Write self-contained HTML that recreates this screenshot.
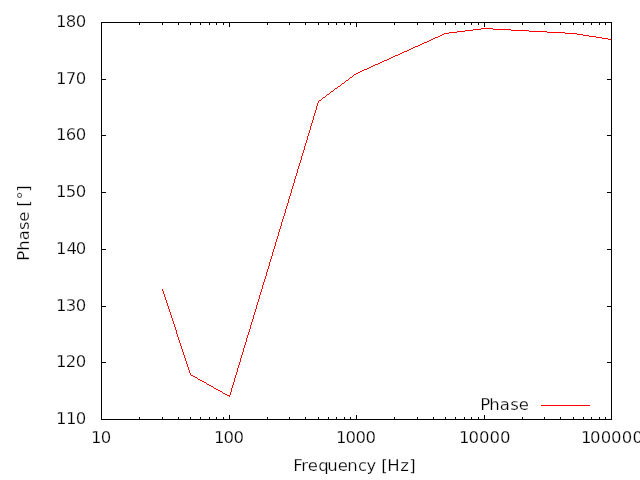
<!DOCTYPE html>
<html lang="en">
<head>
<meta charset="utf-8">
<title>Phase vs Frequency</title>
<style>
html,body{margin:0;padding:0;background:#fff;}
body{width:640px;height:480px;overflow:hidden;}
svg{display:block;}
text{font-family:"DejaVu Sans", "Liberation Sans", sans-serif;font-size:16.5px;fill:#000;stroke:#fff;stroke-width:0.25px;paint-order:fill stroke;}
</style>
</head>
<body>
<svg width="640" height="480" viewBox="0 0 640 480">
<rect x="0" y="0" width="640" height="480" fill="#ffffff"/>
<path d="M191 375h2v1h-2zM193 376h2v1h-2zM195 377h2v1h-2zM198 379h2v1h-2zM200 380h2v1h-2zM202 381h2v1h-2zM204 382h2v1h-2zM207 384h2v1h-2zM209 385h2v1h-2zM211 386h2v1h-2zM214 388h2v1h-2zM216 389h2v1h-2zM218 390h2v1h-2zM220 391h2v1h-2zM223 393h2v1h-2zM225 394h2v1h-2zM227 395h3v1h-3zM319 100h2v1h-2zM323 97h2v1h-2zM327 94h2v1h-2zM331 91h2v1h-2zM335 88h2v1h-2zM338 86h2v1h-2zM342 83h2v1h-2zM346 80h2v1h-2zM350 77h2v1h-2zM354 74h2v1h-2zM356 73h2v1h-2zM358 72h2v1h-2zM360 71h2v1h-2zM362 70h2v1h-2zM364 69h3v1h-3zM367 68h2v1h-2zM369 67h2v1h-2zM371 66h2v1h-2zM373 65h2v1h-2zM375 64h3v1h-3zM378 63h2v1h-2zM380 62h2v1h-2zM382 61h2v1h-2zM384 60h3v1h-3zM387 59h2v1h-2zM389 58h2v1h-2zM391 57h2v1h-2zM393 56h2v1h-2zM395 55h3v1h-3zM398 54h2v1h-2zM400 53h2v1h-2zM402 52h2v1h-2zM404 51h3v1h-3zM407 50h2v1h-2zM409 49h2v1h-2zM411 48h2v1h-2zM413 47h2v1h-2zM415 46h3v1h-3zM418 45h2v1h-2zM420 44h2v1h-2zM422 43h2v1h-2zM424 42h3v1h-3zM427 41h2v1h-2zM429 40h2v1h-2zM431 39h2v1h-2zM608 39h4v1h-4zM433 38h2v1h-2zM602 38h6v1h-6zM435 37h3v1h-3zM596 37h6v1h-6zM438 36h2v1h-2zM589 36h7v1h-7zM440 35h2v1h-2zM583 35h6v1h-6zM442 34h2v1h-2zM577 34h6v1h-6zM444 33h5v1h-5zM565 33h12v1h-12zM449 32h8v1h-8zM547 32h18v1h-18zM457 31h8v1h-8zM529 31h18v1h-18zM465 30h8v1h-8zM511 30h18v1h-18zM473 29h8v1h-8zM493 29h18v1h-18zM481 28h12v1h-12zM162 289h1v2h-1zM163 291h1v3h-1zM164 294h1v3h-1zM165 297h1v3h-1zM166 300h1v3h-1zM167 303h1v3h-1zM168 306h1v3h-1zM169 309h1v3h-1zM170 312h1v3h-1zM171 315h1v3h-1zM172 318h1v3h-1zM173 321h1v3h-1zM174 324h1v3h-1zM175 327h1v3h-1zM176 330h1v4h-1zM177 334h1v3h-1zM178 337h1v3h-1zM179 340h1v3h-1zM180 343h1v3h-1zM181 346h1v3h-1zM182 349h1v3h-1zM183 352h1v3h-1zM184 355h1v3h-1zM185 358h1v3h-1zM186 361h1v3h-1zM187 364h1v3h-1zM188 367h1v3h-1zM189 370h1v3h-1zM190 373h1v2h-1zM197 378h1v1h-1zM206 383h1v1h-1zM213 387h1v1h-1zM222 392h1v1h-1zM229 396h1v1h-1zM230 392h1v3h-1zM231 388h1v4h-1zM232 385h1v3h-1zM233 382h1v3h-1zM234 378h1v4h-1zM235 375h1v3h-1zM236 372h1v3h-1zM237 368h1v4h-1zM238 365h1v3h-1zM239 362h1v3h-1zM240 358h1v4h-1zM241 355h1v3h-1zM242 352h1v3h-1zM243 348h1v4h-1zM244 345h1v3h-1zM245 342h1v3h-1zM246 338h1v4h-1zM247 335h1v3h-1zM248 332h1v3h-1zM249 329h1v3h-1zM250 325h1v4h-1zM251 322h1v3h-1zM252 319h1v3h-1zM253 315h1v4h-1zM254 312h1v3h-1zM255 309h1v3h-1zM256 305h1v4h-1zM257 302h1v3h-1zM258 299h1v3h-1zM259 295h1v4h-1zM260 292h1v3h-1zM261 289h1v3h-1zM262 285h1v4h-1zM263 282h1v3h-1zM264 279h1v3h-1zM265 276h1v3h-1zM266 272h1v4h-1zM267 269h1v3h-1zM268 266h1v3h-1zM269 262h1v4h-1zM270 259h1v3h-1zM271 256h1v3h-1zM272 252h1v4h-1zM273 249h1v3h-1zM274 246h1v3h-1zM275 242h1v4h-1zM276 239h1v3h-1zM277 236h1v3h-1zM278 232h1v4h-1zM279 229h1v3h-1zM280 226h1v3h-1zM281 222h1v4h-1zM282 219h1v3h-1zM283 216h1v3h-1zM284 213h1v3h-1zM285 209h1v4h-1zM286 206h1v3h-1zM287 203h1v3h-1zM288 199h1v4h-1zM289 196h1v3h-1zM290 193h1v3h-1zM291 189h1v4h-1zM292 186h1v3h-1zM293 183h1v3h-1zM294 179h1v4h-1zM295 176h1v3h-1zM296 173h1v3h-1zM297 169h1v4h-1zM298 166h1v3h-1zM299 163h1v3h-1zM300 160h1v3h-1zM301 156h1v4h-1zM302 153h1v3h-1zM303 150h1v3h-1zM304 146h1v4h-1zM305 143h1v3h-1zM306 140h1v3h-1zM307 136h1v4h-1zM308 133h1v3h-1zM309 130h1v3h-1zM310 126h1v4h-1zM311 123h1v3h-1zM312 120h1v3h-1zM313 116h1v4h-1zM314 113h1v3h-1zM315 110h1v3h-1zM316 106h1v4h-1zM317 103h1v3h-1zM318 101h1v2h-1zM321 99h1v1h-1zM322 98h1v1h-1zM325 96h1v1h-1zM326 95h1v1h-1zM329 93h1v1h-1zM330 92h1v1h-1zM333 90h1v1h-1zM334 89h1v1h-1zM337 87h1v1h-1zM340 85h1v1h-1zM341 84h1v1h-1zM344 82h1v1h-1zM345 81h1v1h-1zM348 79h1v1h-1zM349 78h1v1h-1zM352 76h1v1h-1zM353 75h1v1h-1z" fill="#ff0000" shape-rendering="crispEdges"/>
<g fill="#000" shape-rendering="crispEdges">
<rect x="101" y="22" width="511" height="1"/>
<rect x="101" y="419" width="511" height="1"/>
<rect x="101" y="22" width="1" height="398"/>
<rect x="611" y="22" width="1" height="398"/>
<rect x="101" y="419" width="5" height="1"/>
<rect x="607" y="419" width="5" height="1"/>
<rect x="101" y="362" width="5" height="1"/>
<rect x="607" y="362" width="5" height="1"/>
<rect x="101" y="306" width="5" height="1"/>
<rect x="607" y="306" width="5" height="1"/>
<rect x="101" y="249" width="5" height="1"/>
<rect x="607" y="249" width="5" height="1"/>
<rect x="101" y="192" width="5" height="1"/>
<rect x="607" y="192" width="5" height="1"/>
<rect x="101" y="135" width="5" height="1"/>
<rect x="607" y="135" width="5" height="1"/>
<rect x="101" y="79" width="5" height="1"/>
<rect x="607" y="79" width="5" height="1"/>
<rect x="101" y="22" width="5" height="1"/>
<rect x="607" y="22" width="5" height="1"/>
<rect x="101" y="22" width="1" height="5"/>
<rect x="101" y="415" width="1" height="5"/>
<rect x="139" y="22" width="1" height="3"/>
<rect x="139" y="417" width="1" height="3"/>
<rect x="162" y="22" width="1" height="3"/>
<rect x="162" y="417" width="1" height="3"/>
<rect x="178" y="22" width="1" height="3"/>
<rect x="178" y="417" width="1" height="3"/>
<rect x="190" y="22" width="1" height="3"/>
<rect x="190" y="417" width="1" height="3"/>
<rect x="200" y="22" width="1" height="3"/>
<rect x="200" y="417" width="1" height="3"/>
<rect x="209" y="22" width="1" height="3"/>
<rect x="209" y="417" width="1" height="3"/>
<rect x="216" y="22" width="1" height="3"/>
<rect x="216" y="417" width="1" height="3"/>
<rect x="223" y="22" width="1" height="3"/>
<rect x="223" y="417" width="1" height="3"/>
<rect x="229" y="22" width="1" height="5"/>
<rect x="229" y="415" width="1" height="5"/>
<rect x="267" y="22" width="1" height="3"/>
<rect x="267" y="417" width="1" height="3"/>
<rect x="289" y="22" width="1" height="3"/>
<rect x="289" y="417" width="1" height="3"/>
<rect x="305" y="22" width="1" height="3"/>
<rect x="305" y="417" width="1" height="3"/>
<rect x="318" y="22" width="1" height="3"/>
<rect x="318" y="417" width="1" height="3"/>
<rect x="328" y="22" width="1" height="3"/>
<rect x="328" y="417" width="1" height="3"/>
<rect x="336" y="22" width="1" height="3"/>
<rect x="336" y="417" width="1" height="3"/>
<rect x="344" y="22" width="1" height="3"/>
<rect x="344" y="417" width="1" height="3"/>
<rect x="350" y="22" width="1" height="3"/>
<rect x="350" y="417" width="1" height="3"/>
<rect x="356" y="22" width="1" height="5"/>
<rect x="356" y="415" width="1" height="5"/>
<rect x="394" y="22" width="1" height="3"/>
<rect x="394" y="417" width="1" height="3"/>
<rect x="417" y="22" width="1" height="3"/>
<rect x="417" y="417" width="1" height="3"/>
<rect x="433" y="22" width="1" height="3"/>
<rect x="433" y="417" width="1" height="3"/>
<rect x="445" y="22" width="1" height="3"/>
<rect x="445" y="417" width="1" height="3"/>
<rect x="455" y="22" width="1" height="3"/>
<rect x="455" y="417" width="1" height="3"/>
<rect x="464" y="22" width="1" height="3"/>
<rect x="464" y="417" width="1" height="3"/>
<rect x="471" y="22" width="1" height="3"/>
<rect x="471" y="417" width="1" height="3"/>
<rect x="478" y="22" width="1" height="3"/>
<rect x="478" y="417" width="1" height="3"/>
<rect x="484" y="22" width="1" height="5"/>
<rect x="484" y="415" width="1" height="5"/>
<rect x="522" y="22" width="1" height="3"/>
<rect x="522" y="417" width="1" height="3"/>
<rect x="544" y="22" width="1" height="3"/>
<rect x="544" y="417" width="1" height="3"/>
<rect x="560" y="22" width="1" height="3"/>
<rect x="560" y="417" width="1" height="3"/>
<rect x="573" y="22" width="1" height="3"/>
<rect x="573" y="417" width="1" height="3"/>
<rect x="583" y="22" width="1" height="3"/>
<rect x="583" y="417" width="1" height="3"/>
<rect x="591" y="22" width="1" height="3"/>
<rect x="591" y="417" width="1" height="3"/>
<rect x="599" y="22" width="1" height="3"/>
<rect x="599" y="417" width="1" height="3"/>
<rect x="605" y="22" width="1" height="3"/>
<rect x="605" y="417" width="1" height="3"/>
<rect x="611" y="22" width="1" height="5"/>
<rect x="611" y="415" width="1" height="5"/>
</g>
<rect x="541" y="405" width="49" height="1" fill="#ff0000" shape-rendering="crispEdges"/>
<text x="480.25 489.25 499.75 510.25 518.75" y="410">Phase</text>
<text x="56 66 75.75" y="424">110</text>
<text x="56 65.75 75.75" y="367">120</text>
<text x="56 65.75 75.75" y="311">130</text>
<text x="56 66.5 75.75" y="254">140</text>
<text x="56 65.75 75.75" y="197">150</text>
<text x="56 65.75 75.75" y="140">160</text>
<text x="56 65.75 75.75" y="84">170</text>
<text x="56 65.75 75.75" y="27">180</text>
<text x="91 100.65" y="443">10</text>
<text x="214 223.5 233.6" y="443">100</text>
<text x="336 345.6 355.6 365.6" y="443">1000</text>
<text x="459 468.4 478.9 489.4 499.9" y="443">10000</text>
<text x="581 590.1 600.7 611.1 621.7 632.4" y="443">100000</text>
<text x="293.25 301.25 307.75 318.25 327.25 337.75 347.25 358 366.5 376.5 381.25 387.25 400.25 409.25" y="471">Frequency [Hz]</text>
<text transform="translate(29,0) rotate(-90)" x="-260.85 -250.72 -240.15 -229.94 -221.7 -211 -206.65 -199.6 -191.8" y="0">Phase [°]</text>
</svg>
</body>
</html>
